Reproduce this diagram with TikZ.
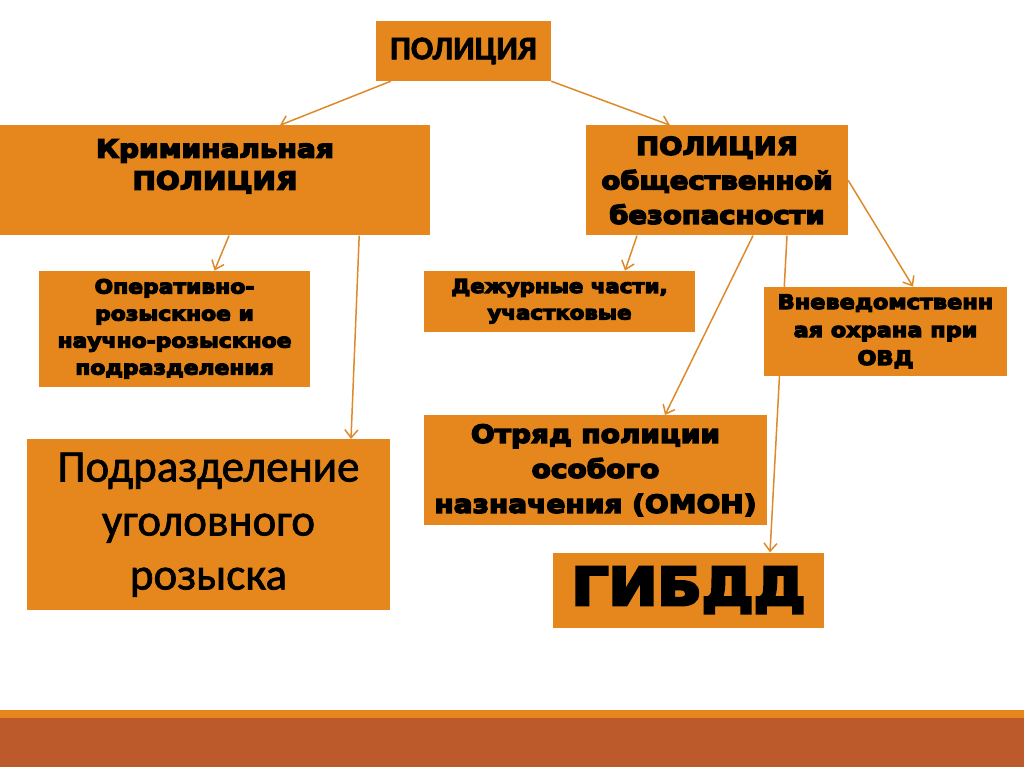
\documentclass[tikz,border=0pt]{standalone}
\usepackage{fontspec}
\setmainfont{Carlito}
\newfontfamily\heavyfont[FakeStretch=1.12]{DejaVu Sans Bold}
\newcommand{\blk}[2]{\heavyfont\fontsize{#1}{#2}\selectfont}
\usetikzlibrary{positioning,arrows.meta,backgrounds}
\definecolor{boxorange}{HTML}{E5871C}
\definecolor{lineorange}{HTML}{DE8A2C}
\definecolor{banddark}{HTML}{BD5A2C}

\begin{document}
\begin{tikzpicture}[x=1pt,y=-1pt,box/.style={fill=boxorange,inner sep=0pt,align=center,text=black},ink/.style={execute at begin node={\special{pdf:literal direct 2 Tr #1 w}},execute at end node={\special{pdf:literal direct 0 Tr 1 w}}},heavy/.style n args={3}{font=\blk{#1}{#2},ink=#3},link/.style={draw=lineorange,line width=1.5pt,-{Straight Barb[length=8pt,width=13pt]}}] %
    \useasboundingbox (0,0) rectangle (1024,767) ; %
    \node[box,minimum width=175pt,minimum height=60pt,font=\bfseries\fontsize{33pt}{40pt}\selectfont,ink=0.7] (top) at (463.5,51) {ПОЛИЦИЯ} ; %
    \node[box,minimum width=430pt,minimum height=110pt,below=44pt of top,xshift=-248.5pt,heavy={25pt}{32pt}{1.5}] (krim) {Криминальная\\ПОЛИЦИЯ\\\mbox{}} ; %
    \node[box,minimum width=262pt,minimum height=110pt,below=44pt of top,xshift=253.5pt,heavy={24.5pt}{34.5pt}{1.5}] (obsh) {ПОЛИЦИЯ\\общественной\\безопасности} ; %
    \node[box,minimum width=271pt,minimum height=116pt,below=35pt of krim,xshift=-40.5pt,heavy={19.5pt}{27pt}{1.2}] (oper) {Оперативно-\\розыскное и\\научно-розыскное\\подразделения} ; %
    \node[box,minimum width=363pt,minimum height=171pt,below=52pt of oper,xshift=34pt,font=\fontsize{45pt}{54pt}\selectfont,ink=0.7] (ugol) {Подразделение\\уголовного\\розыска} ; %
    \node[box,minimum width=271pt,minimum height=61pt,below=35pt of obsh,xshift=-157.5pt,heavy={19pt}{26.5pt}{1.2}] (dezh) {Дежурные части,\\участковые} ; %
    \node[box,minimum width=243pt,minimum height=89pt,below=51pt of obsh,xshift=168.5pt,heavy={20pt}{28pt}{1.2}] (vnev) {Вневедомственн\\ая охрана при\\ОВД} ; %
    \node[box,minimum width=343pt,minimum height=110pt,below=83pt of dezh,xshift=36pt,heavy={25pt}{35pt}{1.5}] (omon) {Отряд полиции\\особого\\назначения (ОМОН)} ; %
    \node[box,minimum width=271pt,minimum height=75pt,below=27pt of omon,xshift=93pt,heavy={52pt}{60pt}{3}] (gibdd) {ГИБДД} ; %
    \begin{scope}[on background layer]
    \fill[white] (0,0) rectangle (1024,767) ; %
    \fill[boxorange] (0,710) rectangle (1024,718) ; %
    \fill[banddark] (0,718) rectangle (1024,767) ; %
    \draw[link] ([xshift=15pt]top.south west) -- ([xshift=65pt]krim.north) ; %
    \draw[link] (top.south east) -- ([xshift=-47pt]obsh.north) ; %
    \draw[link] ([xshift=14pt]krim.south) -- ([xshift=40pt]oper.north) ; %
    \draw[link] ([xshift=-71pt]krim.south east) -- ([xshift=142.5pt]ugol.north) ; %
    \draw[link] ([xshift=-80pt]obsh.south) -- ([xshift=65.5pt]dezh.north) ; %
    \draw[link] ([xshift=36pt]obsh.south) -- ([xshift=69.5pt]omon.north) ; %
    \draw[link] ([xshift=70pt]obsh.south) -- ([xshift=81.5pt]gibdd.north) ; %
    \draw[link] (obsh.east) -- ([xshift=27.5pt]vnev.north) ; %
    \end{scope}
  \end{tikzpicture}
\end{document}
